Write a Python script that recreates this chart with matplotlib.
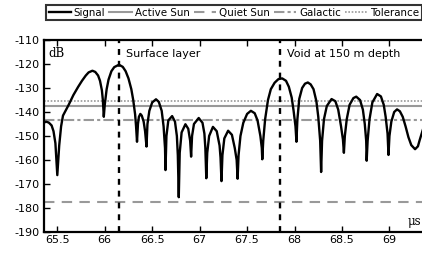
import numpy as np
import matplotlib
matplotlib.use('Agg')
import matplotlib.pyplot as plt
from matplotlib.ticker import FormatStrFormatter

plt.rcParams['axes.unicode_minus'] = False

# signal trace (time in us, level in dB)
t = [65.35, 65.38, 65.41, 65.44, 65.46, 65.48, 65.50,
     65.51, 65.52, 65.54, 65.56, 65.58, 65.62, 65.67, 65.72, 65.76, 65.80, 65.83, 65.87,
     65.90, 65.93, 65.95, 65.97, 65.98, 65.99,
     66.00, 66.02, 66.04, 66.07, 66.10, 66.15, 66.19, 66.22, 66.25, 66.28, 66.30, 66.32, 66.33, 66.34,
     66.35, 66.36, 66.375, 66.39, 66.41, 66.425, 66.44,
     66.45, 66.47, 66.50, 66.54, 66.57, 66.60, 66.62, 66.635, 66.64,
     66.65, 66.67, 66.71, 66.74, 66.76, 66.77, 66.78,
     66.79, 66.81, 66.85, 66.88, 66.90, 66.91,
     66.92, 66.94, 66.99, 67.03, 67.05, 67.06, 67.07,
     67.08, 67.10, 67.14, 67.18, 67.21, 67.22, 67.23,
     67.24, 67.26, 67.30, 67.34, 67.37, 67.39, 67.40,
     67.41, 67.43, 67.46, 67.50, 67.54, 67.58, 67.61, 67.64, 67.655, 67.66,
     67.67, 67.69, 67.72, 67.75, 67.79, 67.83, 67.87, 67.91, 67.94, 67.97, 67.99, 68.01, 68.02,
     68.03, 68.05, 68.08, 68.11, 68.14, 68.17, 68.20, 68.23, 68.25, 68.27, 68.28,
     68.29, 68.31, 68.34, 68.39, 68.43, 68.46, 68.49, 68.51, 68.52,
     68.53, 68.55, 68.58, 68.62, 68.65, 68.69, 68.72, 68.74, 68.755, 68.76,
     68.77, 68.79, 68.82, 68.87, 68.91, 68.94, 68.96, 68.98, 68.99,
     69.00, 69.02, 69.05, 69.08, 69.11, 69.14, 69.17, 69.20, 69.23, 69.27, 69.30, 69.32, 69.34,
     69.37, 69.40]
signal = [-144.7, -144.0, -144.4, -145.6, -148.0, -153.0, -166.3,
          -160.0, -154.0, -146.0, -141.5, -140.0, -137.0, -132.9, -129.5, -127.0, -124.8, -123.5, -122.8,
          -123.3, -124.8, -127.0, -131.0, -135.0, -142.0,
          -137.0, -130.5, -126.5, -123.0, -121.3, -120.3, -121.2, -123.0, -126.0, -130.5, -135.0, -141.0, -146.0, -152.4,
          -145.0, -142.0, -140.8, -141.5, -144.0, -148.0, -154.4,
          -145.0, -139.5, -136.0, -134.7, -135.8, -139.5, -146.0, -155.0, -164.2,
          -150.0, -143.5, -141.7, -144.0, -150.0, -158.0, -175.5,
          -157.0, -148.5, -145.1, -147.0, -152.0, -158.6,
          -150.0, -145.0, -142.5, -144.5, -149.0, -155.0, -167.6,
          -157.0, -150.0, -146.2, -148.0, -154.0, -159.0, -168.8,
          -158.0, -151.0, -147.8, -149.5, -155.0, -160.0, -167.8,
          -158.0, -150.0, -144.5, -140.8, -139.5, -140.5, -143.5, -150.0, -155.0, -159.7,
          -152.0, -143.0, -135.0, -130.5, -127.8, -126.3, -126.0, -127.0, -129.5, -134.0, -139.5, -146.0, -152.4,
          -143.0, -134.5, -130.0, -128.2, -127.7, -128.5, -130.5, -135.5, -142.0, -152.0, -165.0,
          -152.0, -143.0, -137.5, -134.6, -135.5, -139.0, -146.0, -151.5, -157.0,
          -150.0, -143.0, -137.0, -134.2, -133.6, -135.0, -139.0, -145.0, -152.0, -160.3,
          -152.0, -143.0, -136.0, -132.5, -133.5, -137.0, -142.0, -149.0, -157.9,
          -150.0, -144.0, -140.0, -138.9, -139.7, -142.0, -146.0, -150.5, -153.8, -155.5, -154.3, -151.5, -149.0,
          -145.0, -142.0]

active_sun = -137.4
quiet_sun = -177.6
galactic = -143.5
tolerance = -135.5

events = [66.15, 67.85]
event_labels = ['Surface layer', 'Void at 150 m depth']

xticks = [65.5, 66, 66.5, 67, 67.5, 68, 68.5, 69]
yticks = [-110, -120, -130, -140, -150, -160, -170, -180, -190]

fig = plt.figure(figsize=(4.22, 2.54), dpi=100)
ax = fig.add_axes([0.1043, 0.0866, 0.931, 0.7559])

gray = '#999999'
ax.axhline(active_sun, color=gray, lw=1.5, label='Active Sun')
ax.axhline(quiet_sun, color=gray, lw=1.5, dashes=(5, 3.5), label='Quiet Sun')
ax.axhline(galactic, color=gray, lw=1.5, dashes=(5, 1.5, 1.5, 1.5), label='Galactic')
ax.axhline(tolerance, color=gray, lw=1.2, ls=(0, (1, 1)), label='Tolerance')
ax.plot(t, signal, color='black', lw=1.7, label='Signal', zorder=5,
        solid_joinstyle='round')

for xe, lab in zip(events, event_labels):
    ax.axvline(xe, color='black', lw=1.7, dashes=(2.5, 2.5), zorder=6)
    ax.text(xe + 0.07, -115.8, lab, fontsize=8, va='center', ha='left')

ax.set_xlim(65.36, 69.5)
ax.set_ylim(-190, -110)
ax.set_xticks(xticks)
ax.set_yticks(yticks)
ax.xaxis.set_major_formatter(FormatStrFormatter('%g'))
ax.tick_params(direction='in', top=True, length=4, width=1, labelsize=8, pad=3)
ax.tick_params(axis='x', pad=2)
for s in ax.spines.values():
    s.set_linewidth(1.6)
ax.spines['right'].set_visible(False)

ax.text(0.012, 0.965, 'dB', transform=ax.transAxes, fontsize=8.5, family='DejaVu Serif',
        va='top', ha='left')
fig.text(408 / 422, 1 - 222 / 254, 'μs', fontsize=8.5, family='DejaVu Serif',
         va='center', ha='left')

h, l = ax.get_legend_handles_labels()
order = [4, 0, 1, 2, 3]
leg = fig.legend([h[i] for i in order], [l[i] for i in order], ncol=5,
                 loc='upper left', bbox_to_anchor=(46 / 422, 1 - 5 / 254),
                 fontsize=7.4, frameon=True, fancybox=False, handlelength=2.2,
                 handletextpad=0.25, columnspacing=0.4, borderpad=0.25,
                 borderaxespad=0)
leg.get_frame().set_edgecolor('black')
leg.get_frame().set_linewidth(1.5)

fig.savefig('out.png', dpi=100)
